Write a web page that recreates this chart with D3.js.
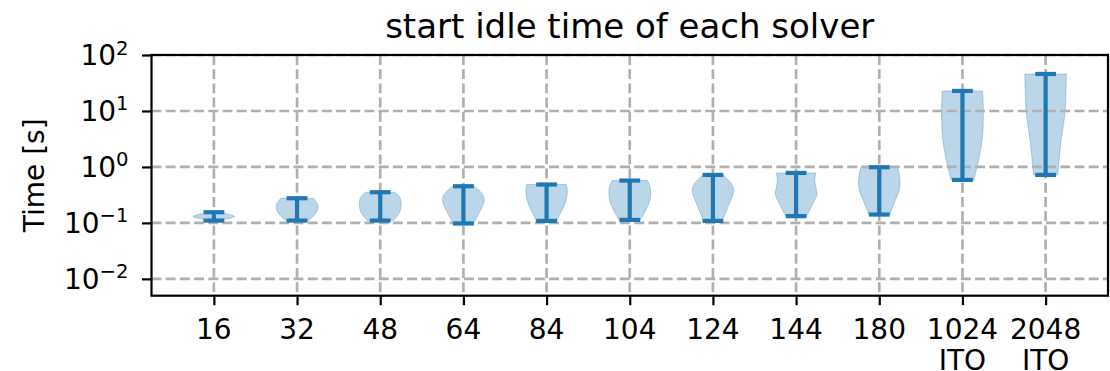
<!DOCTYPE html>
<html><head><meta charset="utf-8">
<script src="https://cdn.jsdelivr.net/npm/d3@7"></script>
<style>body{margin:0;background:#fff} text{font-family:"DejaVu Sans",sans-serif;fill:#000}</style>
</head><body><svg id="c" width="1110" height="371"></svg>
<script>
// ---- data ----
const categories = ["16","32","48","64","84","104","124","144","180","1024\nITO","2048\nITO"];
const minValues = [0.110,0.110,0.110,0.0976,0.1086,0.113,0.1086,0.132,0.141,0.586,0.720];
const maxValues = [0.155,0.276,0.353,0.452,0.485,0.571,0.720,0.781,0.988,22.8,45.8];
// relative half-widths (top -> bottom), evenly spaced in log(value) between max and min
const densityProfiles = [
  [0.25,0.55,0.85,1.0,0.85,0.55,0.3],
  [0.78,0.92,1.0,0.98,0.9,0.75,0.55],
  [0.7,0.93,1.0,1.0,0.95,0.82,0.62],
  [0.5,0.85,1.0,0.95,0.8,0.65,0.48],
  [0.95,1.0,0.97,0.9,0.78,0.62,0.5],
  [0.85,0.98,1.0,0.97,0.85,0.7,0.5],
  [0.48,0.85,1.0,0.9,0.75,0.6,0.45],
  [0.95,0.9,0.95,1.0,0.85,0.68,0.5],
  [0.88,0.97,1.0,0.95,0.8,0.65,0.5],
  [0.97,1.0,1.0,0.97,0.87,0.72,0.55],
  [1.0,0.98,0.95,0.86,0.74,0.66,0.58]
];
const yTickExponents = [-2,-1,0,1,2];
const titleText = "start idle time of each solver";
const yLabelText = "Time [s]";

// ---- layout ----
const mLeft = 151.5, mRight = 1108, mTop = 55, mBottom = 295.7;
const C0 = "#1f77b4";
const svg = d3.select("#c");
const positions = categories.map((d,i)=>i+1);
const x = d3.scaleLinear().domain([0.25, categories.length + 0.75]).range([mLeft, mRight]);
const y = d3.scaleLog().domain([0.005, 100]).range([mBottom, mTop]);
const halfWidth = 0.25; // violin widths = 0.5

// violin bodies
const area = d3.area()
  .y(d => d.y)
  .x0(d => d.x0)
  .x1(d => d.x1)
  .curve(d3.curveCatmullRom.alpha(0.5));

categories.forEach((c,i) => {
  const p = densityProfiles[i];
  const lmax = Math.log10(maxValues[i]), lmin = Math.log10(minValues[i]);
  const pts = p.map((w,k) => {
    const t = k/(p.length-1);
    const v = Math.pow(10, lmax + t*(lmin - lmax));
    return {y: y(v), x0: x(i+1 - w*halfWidth), x1: x(i+1 + w*halfWidth)};
  });
  svg.append("path").attr("d", area(pts))
    .attr("fill", C0).attr("fill-opacity", 0.3)
    .attr("stroke", C0).attr("stroke-opacity", 0.3).attr("stroke-width", 1);
});

// grid
const grid = svg.append("g").attr("stroke","#b0b0b0").attr("stroke-width",2.67).attr("stroke-dasharray","9.9,4.3");
yTickExponents.forEach(e => {
  grid.append("line").attr("x1",mLeft).attr("x2",mRight).attr("y1",y(10**e)).attr("y2",y(10**e));
});
positions.forEach(p => {
  grid.append("line").attr("x1",x(p)).attr("x2",x(p)).attr("y1",mTop).attr("y2",mBottom);
});

// violin lines
const lines = svg.append("g").attr("stroke", C0).attr("stroke-width", 4.2);
categories.forEach((c,i) => {
  const cx = x(i+1), capL = x(i+1-0.125), capR = x(i+1+0.125);
  lines.append("line").attr("x1",cx).attr("x2",cx).attr("y1",y(maxValues[i])).attr("y2",y(minValues[i]));
  lines.append("line").attr("x1",capL).attr("x2",capR).attr("y1",y(maxValues[i])).attr("y2",y(maxValues[i]));
  lines.append("line").attr("x1",capL).attr("x2",capR).attr("y1",y(minValues[i])).attr("y2",y(minValues[i]));
});

// axes ticks
const yAxis = d3.axisLeft(y).tickValues(yTickExponents.map(e=>10**e)).tickFormat("").tickSize(9.5).tickSizeOuter(0);
const gy = svg.append("g").attr("transform",`translate(${mLeft},0)`).call(yAxis);
const xAxis = d3.axisBottom(x).tickValues(positions).tickFormat("").tickSize(9.5).tickSizeOuter(0);
const gx = svg.append("g").attr("transform",`translate(0,${mBottom})`).call(xAxis);
[gy,gx].forEach(g => { g.select(".domain").remove(); g.selectAll(".tick line").attr("stroke","#000").attr("stroke-width",2.2); });

// spines
svg.append("rect").attr("x",mLeft).attr("y",mTop).attr("width",mRight-mLeft).attr("height",mBottom-mTop)
  .attr("fill","none").attr("stroke","#000").attr("stroke-width",2.2);

// y tick labels
yTickExponents.forEach(e => {
  const t = svg.append("text").attr("x",128.5).attr("y",y(10**e)+10).attr("text-anchor","end").style("font-size","28px");
  t.append("tspan").text("10");
  t.append("tspan").attr("dy",-10.5).style("font-size","19.6px").text(e < 0 ? "\u2212" + Math.abs(e) : String(e));
});

// x tick labels
categories.forEach((c,i) => {
  const t = svg.append("text").attr("x",x(i+1)).attr("y",339).attr("text-anchor","middle").style("font-size","28px");
  c.split("\n").forEach((line,k) => {
    t.append("tspan").attr("x",x(i+1)).attr("dy", k===0 ? 0 : 31).text(line);
  });
});

// title & y label
svg.append("text").attr("x",(mLeft+mRight)/2).attr("y",38).attr("text-anchor","middle").style("font-size","34px").text(titleText);
svg.append("text").attr("transform",`translate(44,${(mTop+mBottom)/2}) rotate(-90)`).attr("text-anchor","middle").style("font-size","28px").text(yLabelText);
</script></body></html>
